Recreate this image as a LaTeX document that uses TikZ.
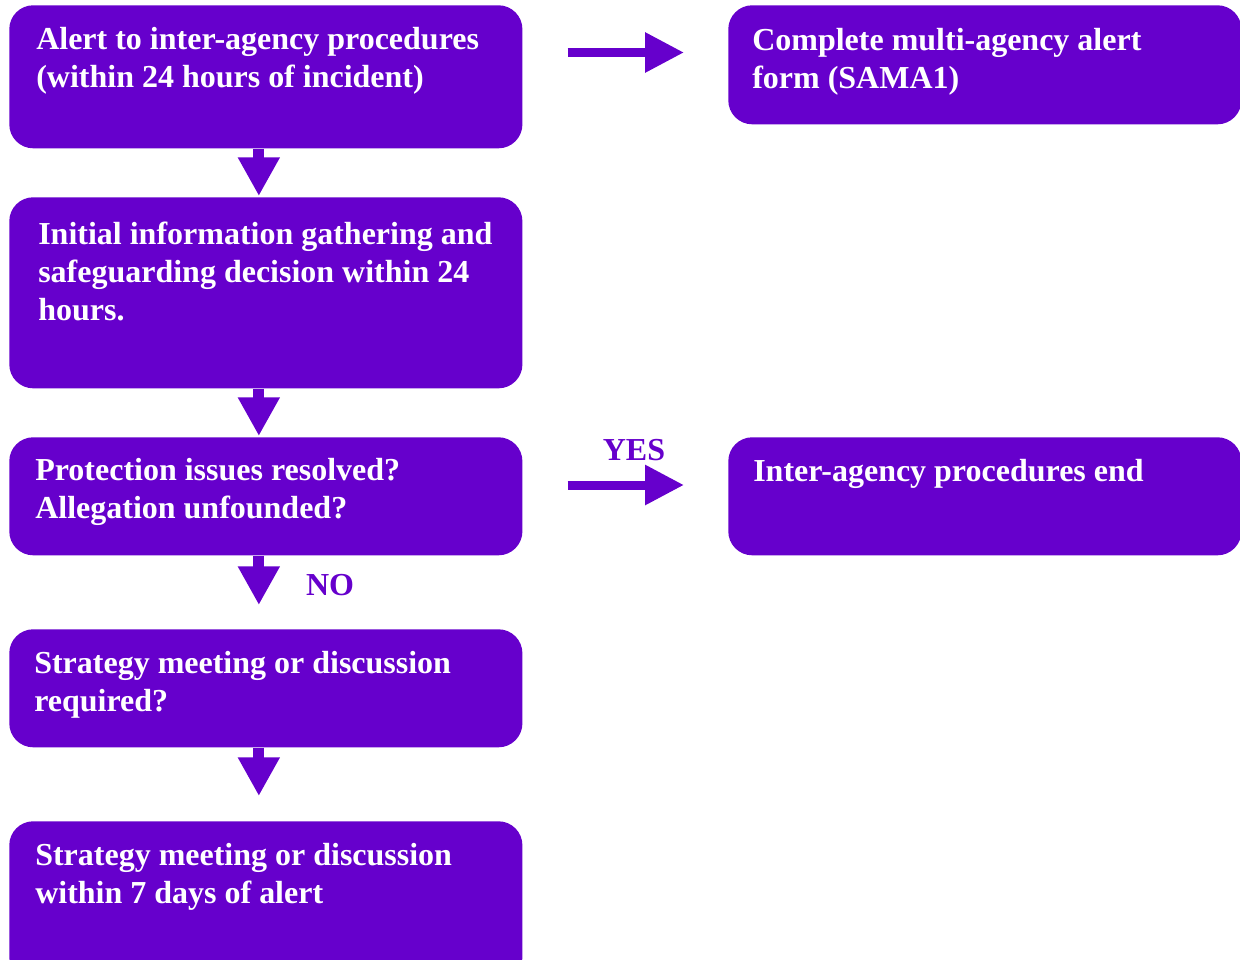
\documentclass[tikz,border=0pt]{standalone}
\usepackage{fontspec}
\setmainfont{Liberation Serif}
\usetikzlibrary{arrows.meta}
\definecolor{purp}{RGB}{102,0,204}

\begin{document}
\begin{tikzpicture}[x=0.025cm,y=-0.025cm,
    box/.style={fill=purp, rounded corners=0.6cm, anchor=north west, inner sep=0pt, minimum width=12.825cm},
    txt/.style={anchor=north west, inner sep=0pt, align=left, text=white, font=\fontsize{22.75}{27}\selectfont\bfseries},
    lbl/.style={inner sep=0pt, text=purp, font=\fontsize{22.75}{27}\selectfont\bfseries},
    downarrow/.style={purp, line width=7.8pt, -{Triangle[length=27.5pt,width=28pt]}},
    rightarrow/.style={purp, line width=6.4pt, -{Triangle[length=27.7pt,width=27pt]}}]
    \useasboundingbox (0,0) rectangle (1240,959);

    % boxes, left column
    \node[box, minimum height=3.575cm] (alert) at (9,5) {};
    \node[box, minimum height=4.775cm] (gather) at (9,197) {};
    \node[box, minimum height=2.95cm] (protect) at (9,437) {};
    \node[box, minimum height=2.95cm] (strategy) at (9,629) {};
    \node[box, minimum height=4cm] (meeting) at (9,821) {};
    % boxes, right column
    \node[box, minimum height=2.975cm] (form) at (728,5) {};
    \node[box, minimum height=2.95cm] (procend) at (728,437) {};

    \node[txt] (alerttxt) at (36,27) {Alert to inter-agency procedures\\(within 24 hours of incident)};
    \node[txt] (gathertxt) at (38,222) {Initial information gathering and\\safeguarding decision within 24\\hours.};
    \node[txt] (protecttxt) at (35,458) {Protection issues resolved?\\Allegation unfounded?};
    \node[txt] (strategytxt) at (34,651) {Strategy meeting or discussion\\required?};
    \node[txt] (meetingtxt) at (35,843) {Strategy meeting or discussion\\within 7 days of alert};
    \node[txt] (formtxt) at (752,28) {Complete multi-agency alert\\form (SAMA1)};
    \node[txt] (procendtxt) at (753,459) {Inter-agency procedures end};

    \node[lbl] (yes) at (634,450) {YES};
    \node[lbl] (no) at (330,585) {NO};

    % arrows
    \draw[downarrow] ([shift={(-7,0)}]alert.south) -- ([shift={(-7,-1)}]gather.north);
    \draw[downarrow] ([shift={(-7,0)}]gather.south) -- ([shift={(-7,-1)}]protect.north);
    \draw[downarrow] ([shift={(-7,0)}]protect.south) -- ([shift={(-7,-24)}]strategy.north);
    \draw[downarrow] ([shift={(-7,0)}]strategy.south) -- ([shift={(-7,-25)}]meeting.north);

    \draw[rightarrow] ([shift={(45,47.5)}]alert.north east) -- ([shift={(-44,47.5)}]form.north west);
    \draw[rightarrow] ([shift={(45,48)}]protect.north east) -- ([shift={(-44,48)}]procend.north west);
\end{tikzpicture}
\end{document}
